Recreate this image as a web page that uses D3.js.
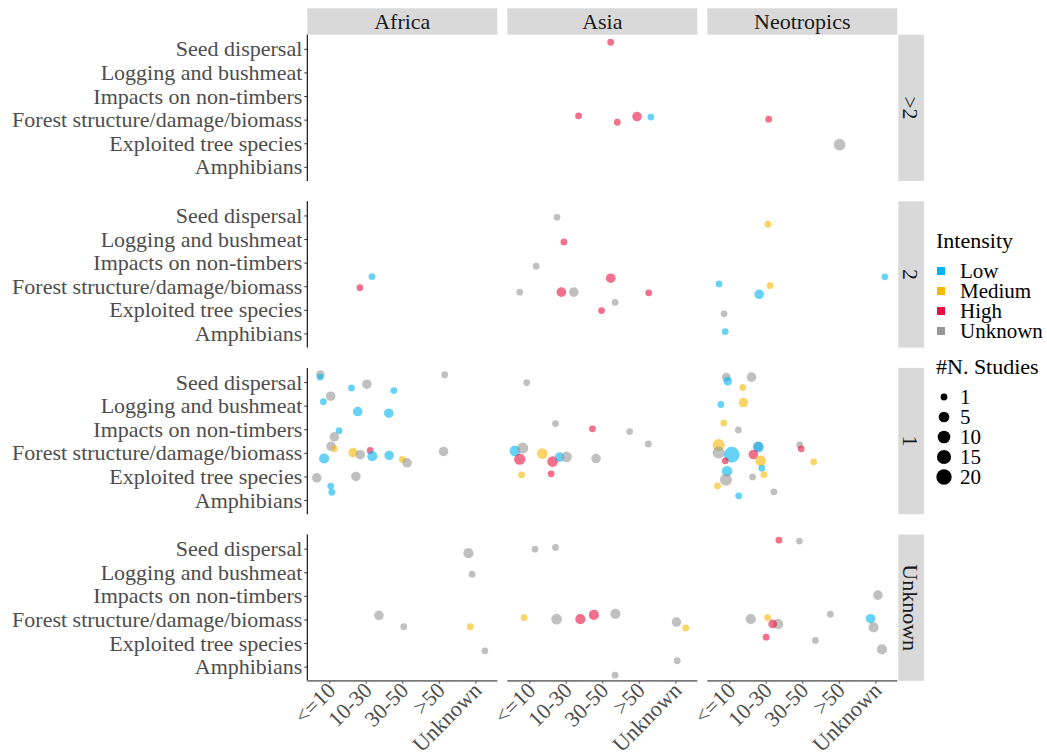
<!DOCTYPE html>
<html>
<head>
<meta charset="utf-8">
<script src="https://cdn.jsdelivr.net/npm/d3@7"></script>
<style>
  html, body { margin: 0; padding: 0; background: #fff; }
  svg text { font-family: "Liberation Serif", "Times New Roman", serif; }
</style>
</head>
<body>
<svg id="chart" width="1047" height="756"></svg>
<script>
// Facets: region columns, harvest-cycle rows
const regions = ["Africa", "Asia", "Neotropics"];
const cycleRows = [">2", "2", "1", "Unknown"];
// x categories (logging intensity classes)
const volumeClasses = ["<=10", "10-30", "30-50", ">50", "Unknown"];
// y categories (study topics), top to bottom
const topics = ["Seed dispersal", "Logging and bushmeat", "Impacts on non-timbers",
                "Forest structure/damage/biomass", "Exploited tree species", "Amphibians"];
const intensities = ["Low", "Medium", "High", "Unknown"];
const intensityColors = ["#00B4F0", "#F5B800", "#E8103E", "#969696"];
const studyBreaks = [1, 5, 10, 15, 20];

// Each study group: [row, volume class index, x jitter, topic index, y jitter, intensity, n studies]
const africaPoints = [
  ["2", 1, 0.17, 3, -0.41, "Low", 1],
  ["2", 1, -0.16, 3, 0.06, "High", 1],
  ["1", 0, -0.24, 0, -0.31, "Unknown", 2],
  ["1", 0, -0.25, 0, -0.21, "Low", 1],
  ["1", 1, -0.39, 0, 0.25, "Low", 1],
  ["1", 1, 0.03, 0, 0.09, "Unknown", 3],
  ["1", 2, -0.23, 0, 0.36, "Low", 1],
  ["1", 3, 0.16, 0, -0.31, "Unknown", 1],
  ["1", 0, -0.16, 1, -0.17, "Low", 1],
  ["1", 0, 0.04, 1, -0.40, "Unknown", 3],
  ["1", 1, -0.22, 1, 0.25, "Low", 3],
  ["1", 2, -0.37, 1, 0.32, "Low", 3],
  ["1", 0, 0.27, 2, 0.06, "Low", 1],
  ["1", 0, 0.14, 2, 0.32, "Unknown", 3],
  ["1", 0, 0.05, 3, -0.28, "Unknown", 3],
  ["1", 0, 0.14, 3, -0.17, "Medium", 1],
  ["1", 0, -0.14, 3, 0.24, "Low", 4],
  ["1", 1, -0.35, 3, -0.01, "Medium", 3],
  ["1", 1, -0.15, 3, 0.08, "Unknown", 3],
  ["1", 1, 0.12, 3, -0.10, "High", 1],
  ["1", 1, 0.18, 3, 0.14, "Low", 4],
  ["1", 2, -0.36, 3, 0.11, "Low", 3],
  ["1", 2, 0.00, 3, 0.28, "Medium", 1],
  ["1", 2, 0.13, 3, 0.42, "Unknown", 3],
  ["1", 3, 0.13, 3, -0.06, "Unknown", 3],
  ["1", 0, -0.34, 4, 0.06, "Unknown", 3],
  ["1", 1, -0.27, 4, 0.00, "Unknown", 3],
  ["1", 0, 0.04, 4, 0.41, "Low", 1],
  ["1", 0, 0.07, 5, -0.33, "Low", 1],
  ["Unknown", 4, -0.19, 0, 0.19, "Unknown", 4],
  ["Unknown", 4, -0.09, 1, 0.08, "Unknown", 1],
  ["Unknown", 1, 0.36, 3, -0.17, "Unknown", 3],
  ["Unknown", 2, 0.04, 3, 0.31, "Unknown", 1],
  ["Unknown", 4, -0.14, 3, 0.31, "Medium", 1],
  ["Unknown", 4, 0.26, 4, 0.33, "Unknown", 1]
];

const asiaPoints = [
  [">2", 2, 0.23, 0, -0.28, "High", 1],
  [">2", 1, 0.35, 3, -0.16, "High", 1],
  [">2", 2, 0.41, 3, 0.11, "High", 1],
  [">2", 3, -0.05, 3, -0.13, "High", 3],
  [">2", 3, 0.33, 3, -0.11, "Low", 1],
  ["2", 1, -0.24, 0, 0.08, "Unknown", 1],
  ["2", 1, -0.05, 1, 0.12, "High", 1],
  ["2", 0, 0.19, 2, 0.15, "Unknown", 1],
  ["2", 0, -0.26, 3, 0.25, "Unknown", 1],
  ["2", 1, -0.12, 3, 0.25, "High", 3],
  ["2", 1, 0.22, 3, 0.25, "Unknown", 3],
  ["2", 2, 0.23, 3, -0.34, "High", 3],
  ["2", 3, 0.27, 3, 0.28, "High", 1],
  ["2", 2, 0.35, 4, -0.32, "Unknown", 1],
  ["2", 2, -0.02, 4, 0.03, "High", 1],
  ["1", 0, -0.07, 0, 0.02, "Unknown", 1],
  ["1", 1, -0.28, 2, -0.24, "Unknown", 1],
  ["1", 2, -0.27, 2, -0.02, "High", 1],
  ["1", 3, -0.25, 2, 0.10, "Unknown", 1],
  ["1", 3, 0.26, 3, -0.38, "Unknown", 1],
  ["1", 0, -0.39, 3, -0.08, "Low", 5],
  ["1", 0, -0.18, 3, -0.20, "Unknown", 6],
  ["1", 0, -0.26, 3, 0.27, "High", 6],
  ["1", 0, 0.36, 3, 0.03, "Medium", 5],
  ["1", 1, -0.36, 3, 0.37, "High", 5],
  ["1", 1, -0.17, 3, 0.18, "Low", 3],
  ["1", 1, 0.02, 3, 0.17, "Unknown", 5],
  ["1", 2, -0.17, 3, 0.24, "Unknown", 3],
  ["1", 0, -0.21, 4, -0.07, "Medium", 1],
  ["1", 1, -0.40, 4, -0.11, "High", 1],
  ["Unknown", 0, 0.16, 0, 0.02, "Unknown", 1],
  ["Unknown", 1, -0.28, 0, -0.05, "Unknown", 1],
  ["Unknown", 0, -0.14, 3, -0.08, "Medium", 1],
  ["Unknown", 1, -0.25, 3, -0.01, "Unknown", 5],
  ["Unknown", 1, 0.40, 3, -0.01, "High", 4],
  ["Unknown", 2, -0.23, 3, -0.19, "High", 4],
  ["Unknown", 2, 0.36, 3, -0.24, "Unknown", 4],
  ["Unknown", 4, 0.03, 3, 0.11, "Unknown", 3],
  ["Unknown", 4, 0.28, 3, 0.36, "Medium", 1],
  ["Unknown", 4, 0.05, 5, -0.25, "Unknown", 1],
  ["Unknown", 2, 0.35, 5, 0.36, "Unknown", 1]
];

const neotropicsPoints = [
  [">2", 1, 0.08, 3, -0.02, "High", 1],
  [">2", 3, 0.02, 4, 0.06, "Unknown", 7],
  ["2", 0, -0.28, 3, -0.10, "Low", 1],
  ["2", 1, 0.06, 0, 0.37, "Medium", 1],
  ["2", 1, 0.12, 3, -0.03, "Medium", 1],
  ["2", 1, -0.18, 3, 0.34, "Low", 3],
  ["2", 0, -0.14, 4, 0.17, "Unknown", 1],
  ["2", 0, -0.11, 5, -0.08, "Low", 1],
  ["2", 4, 0.26, 3, -0.40, "Low", 1],
  ["1", 0, -0.08, 0, -0.21, "Unknown", 2],
  ["1", 0, -0.04, 0, -0.04, "Low", 2],
  ["1", 1, -0.39, 0, -0.21, "Unknown", 3],
  ["1", 0, 0.37, 0, 0.23, "Medium", 1],
  ["1", 0, -0.23, 1, -0.05, "Low", 1],
  ["1", 0, 0.39, 1, -0.13, "Medium", 3],
  ["1", 0, -0.15, 2, -0.26, "Medium", 1],
  ["1", 0, 0.25, 2, 0.03, "Unknown", 1],
  ["1", 0, -0.29, 3, -0.33, "Medium", 8],
  ["1", 0, -0.29, 3, -0.01, "Unknown", 8],
  ["1", 0, 0.07, 3, 0.08, "Low", 22],
  ["1", 0, -0.11, 3, 0.34, "High", 1],
  ["1", 1, -0.21, 3, -0.28, "Unknown", 3],
  ["1", 1, -0.20, 3, -0.24, "Low", 5],
  ["1", 1, -0.34, 3, 0.07, "High", 3],
  ["1", 1, -0.14, 3, 0.34, "Medium", 5],
  ["1", 2, -0.07, 3, -0.34, "Unknown", 1],
  ["1", 2, -0.03, 3, -0.17, "High", 1],
  ["1", 2, 0.31, 3, 0.38, "Medium", 1],
  ["1", 1, -0.11, 4, -0.35, "Low", 1],
  ["1", 1, -0.05, 4, -0.08, "Medium", 1],
  ["1", 1, -0.36, 4, 0.02, "Unknown", 1],
  ["1", 0, -0.06, 4, -0.22, "Low", 5],
  ["1", 0, -0.09, 4, 0.14, "Unknown", 8],
  ["1", 0, -0.32, 4, 0.40, "Medium", 1],
  ["1", 0, 0.26, 5, -0.18, "Low", 1],
  ["1", 1, 0.22, 5, -0.35, "Unknown", 1],
  ["Unknown", 1, 0.36, 0, -0.36, "High", 1],
  ["Unknown", 2, -0.08, 0, -0.32, "Unknown", 1],
  ["Unknown", 4, 0.07, 2, -0.03, "Unknown", 3],
  ["Unknown", 1, -0.41, 3, -0.01, "Unknown", 4],
  ["Unknown", 1, 0.05, 3, -0.08, "Medium", 1],
  ["Unknown", 1, 0.34, 3, 0.20, "Unknown", 4],
  ["Unknown", 1, 0.19, 3, 0.19, "High", 2],
  ["Unknown", 1, 0.01, 4, -0.25, "High", 1],
  ["Unknown", 3, -0.23, 3, -0.22, "Unknown", 1],
  ["Unknown", 2, 0.36, 4, -0.11, "Unknown", 1],
  ["Unknown", 4, -0.13, 3, -0.03, "Low", 3],
  ["Unknown", 4, -0.05, 3, 0.34, "Unknown", 4],
  ["Unknown", 4, 0.18, 4, 0.27, "Unknown", 4]
];

const pointsByRegion = { "Africa": africaPoints, "Asia": asiaPoints, "Neotropics": neotropicsPoints };

// ---- layout ----
const panelLeft = 307.3, panelW = 190, colGap = 10;
const stripTop = 8.3, stripH = 26.4;
const panelTop = 34.7, panelH = 146.3, rowGap = 20.3;
const rowStripW = 25.7;
const FONT = 22;
const LEGEND_FONT = 21;

const svg = d3.select("#chart");

const color = d3.scaleOrdinal().domain(intensities).range(intensityColors);
const radius = v => d3.scaleLinear().domain([0, 1]).range([3.4, 8.2])(Math.sqrt((v - 1) / 24));

const colX = c => panelLeft + c * (panelW + colGap);
const rowY = r => panelTop + r * (panelH + rowGap);

// column strips
regions.forEach((reg, c) => {
  const g = svg.append("g");
  g.append("rect").attr("x", colX(c)).attr("y", stripTop).attr("width", panelW).attr("height", stripH)
    .attr("fill", "#D9D9D9");
  g.append("text").attr("x", colX(c) + panelW / 2).attr("y", stripTop + stripH / 2)
    .attr("dy", "0.35em").attr("text-anchor", "middle").attr("font-size", FONT).attr("fill", "#1A1A1A")
    .text(reg);
});

// row strips
const rowStripX = colX(regions.length - 1) + panelW + 1;
cycleRows.forEach((rl, r) => {
  const g = svg.append("g");
  g.append("rect").attr("x", rowStripX).attr("y", rowY(r)).attr("width", rowStripW).attr("height", panelH)
    .attr("fill", "#D9D9D9");
  g.append("text")
    .attr("transform", `translate(${rowStripX + rowStripW / 2},${rowY(r) + panelH / 2}) rotate(90)`)
    .attr("dy", "0.35em").attr("text-anchor", "middle").attr("font-size", FONT).attr("fill", "#1A1A1A")
    .text(rl);
});

// panels
cycleRows.forEach((rl, r) => {
  const y = d3.scalePoint().domain(topics).range([rowY(r), rowY(r) + panelH]).padding(0.6);

  // y axis on the first column
  const yAxis = svg.append("g").attr("transform", `translate(${panelLeft},0)`)
    .call(d3.axisLeft(y).tickSize(3).tickPadding(2));
  yAxis.select(".domain").attr("stroke", "#000").attr("stroke-width", 1.1)
    .attr("d", `M0,${rowY(r)}V${rowY(r) + panelH}`);
  yAxis.selectAll(".tick line").attr("stroke", "#333");
  yAxis.selectAll(".tick text").attr("font-size", FONT).attr("fill", "#4D4D4D");

  regions.forEach((reg, c) => {
    const x = d3.scalePoint().domain(volumeClasses).range([colX(c), colX(c) + panelW]).padding(0.6);
    const data = pointsByRegion[reg].filter(d => d[0] === rl);
    svg.append("g").selectAll("circle").data(data).join("circle")
      .attr("cx", d => x(volumeClasses[d[1]]) + d[2] * x.step())
      .attr("cy", d => y(topics[d[3]]) + d[4] * y.step())
      .attr("r", d => radius(d[6]))
      .attr("fill", d => color(d[5]))
      .attr("fill-opacity", 0.6);

    // x axis on the bottom row
    if (r === cycleRows.length - 1) {
      const base = rowY(r) + panelH;
      const xAxis = svg.append("g").attr("transform", `translate(0,${base})`)
        .call(d3.axisBottom(x).tickSize(3).tickFormat(""));
      xAxis.select(".domain").attr("stroke", "#7A7A7A").attr("stroke-width", 1.8)
        .attr("d", `M${colX(c)},0H${colX(c) + panelW}`);
      xAxis.selectAll(".tick line").attr("stroke", "#555");
      xAxis.selectAll(".tick").append("text")
        .attr("transform", "translate(7,11) rotate(-45)")
        .attr("text-anchor", "end")
        .attr("font-size", FONT).attr("fill", "#4D4D4D")
        .text(d => d);
    }
  });
});

// legend: intensity
const lg = svg.append("g");
lg.append("text").attr("x", 936).attr("y", 248).attr("font-size", FONT).attr("fill", "#000").text("Intensity");
intensities.forEach((it, i) => {
  const cy = 271 + i * 20;
  lg.append("rect").attr("x", 937).attr("y", cy - 4).attr("width", 8).attr("height", 8).attr("fill", color(it));
  lg.append("text").attr("x", 960).attr("y", cy).attr("dy", "0.33em").attr("font-size", LEGEND_FONT).attr("fill", "#000").text(it);
});

// legend: number of studies
lg.append("text").attr("x", 936).attr("y", 374).attr("font-size", FONT).attr("fill", "#000").text("#N. Studies");
const sizeY = [397, 417, 437, 457, 477];
studyBreaks.forEach((b, i) => {
  lg.append("circle").attr("cx", 944).attr("cy", sizeY[i]).attr("r", radius(b)).attr("fill", "#000");
  lg.append("text").attr("x", 960).attr("y", sizeY[i]).attr("dy", "0.33em").attr("font-size", LEGEND_FONT).attr("fill", "#000").text(b);
});
</script>
</body>
</html>
